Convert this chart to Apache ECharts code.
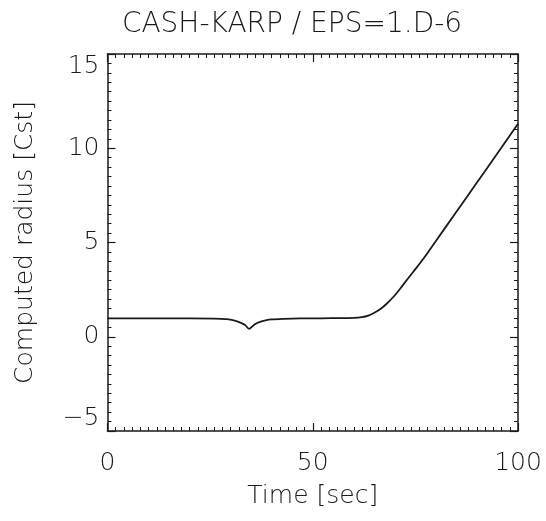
<!DOCTYPE html>
<html>
<head>
<meta charset="utf-8">
<script src="https://cdn.jsdelivr.net/npm/echarts@6/dist/echarts.min.js"></script>
<style>html,body{margin:0;padding:0;background:#fff}#c{width:546px;height:521px}</style>
</head>
<body>
<div id="c"></div>
<script>
const titleText = 'CASH-KARP / EPS=1.D-6';
const xName = 'Time [sec]';
const yName = 'Computed radius [Cst]';
const time   = [0, 10, 20, 26, 29, 31, 32.5, 33.5, 34.5, 35.3, 36, 37, 38.5, 40, 43, 47, 52, 57, 60, 62, 63.5, 65, 66.5, 68, 70, 72, 74.5, 77, 80, 85, 90, 95, 100];
const radius = [0.97, 0.97, 0.97, 0.96, 0.93, 0.85, 0.74, 0.62, 0.42, 0.55, 0.68, 0.78, 0.87, 0.92, 0.95, 0.97, 0.98, 0.99, 1.0, 1.04, 1.12, 1.27, 1.47, 1.75, 2.2, 2.75, 3.45, 4.15, 5.08, 6.63, 8.18, 9.73, 11.3];
const xTicks = [0, 50, 100];
const yTicks = [-5, 0, 5, 10, 15];

const FONT = 'DejaVu Sans';
const ink = '#1a1a1a';
const chart = echarts.init(document.getElementById('c'), null, {renderer: 'canvas'});
const axisCommon = {
  axisLine: {show: true, onZero: false, lineStyle: {color: ink, width: 1.5}},
  axisTick: {show: true, inside: true, length: 8, lineStyle: {color: ink, width: 1.2}},
  minorTick: {show: true, length: 4, lineStyle: {color: ink, width: 1}},
  splitLine: {show: false},
  minorSplitLine: {show: false}
};
chart.setOption({
  animation: false,
  backgroundColor: '#fff',
  title: {
    text: titleText, left: 287, top: 6, textAlign: 'center',
    textStyle: {fontFamily: FONT, fontSize: 28, fontWeight: 300, color: ink}
  },
  grid: {left: 107.5, right: 28, top: 54, bottom: 90},
  xAxis: [
    Object.assign({}, axisCommon, {
      type: 'value', position: 'bottom', min: xTicks[0], max: xTicks[xTicks.length - 1], interval: 50,
      minorTick: Object.assign({}, axisCommon.minorTick, {splitNumber: 25}),
      axisLabel: {margin: 20, fontFamily: FONT, fontSize: 25, fontWeight: 300, color: ink},
      name: xName, nameLocation: 'middle', nameGap: 53,
      nameTextStyle: {fontFamily: FONT, fontSize: 25, fontWeight: 300, color: ink}
    }),
    Object.assign({}, axisCommon, {
      type: 'value', position: 'top', min: xTicks[0], max: xTicks[xTicks.length - 1], interval: 50,
      minorTick: Object.assign({}, axisCommon.minorTick, {splitNumber: 25}),
      axisLabel: {show: false}
    })
  ],
  yAxis: [
    Object.assign({}, axisCommon, {
      type: 'value', position: 'left', min: yTicks[0], max: yTicks[yTicks.length - 1], interval: 5,
      minorTick: Object.assign({}, axisCommon.minorTick, {splitNumber: 10}),
      axisLabel: {margin: 8, fontFamily: FONT, fontSize: 25, fontWeight: 300, color: ink,
        verticalAlignMaxLabel: 'top', verticalAlignMinLabel: 'bottom',
        formatter: v => (v < 0 ? '\u2212' + Math.abs(v) : String(v))},
      name: yName, nameLocation: 'middle', nameGap: 70, nameRotate: 90,
      nameTextStyle: {fontFamily: FONT, fontSize: 25, fontWeight: 300, color: ink}
    }),
    Object.assign({}, axisCommon, {
      type: 'value', position: 'right', min: yTicks[0], max: yTicks[yTicks.length - 1], interval: 5,
      minorTick: Object.assign({}, axisCommon.minorTick, {splitNumber: 10}),
      axisLabel: {show: false}
    })
  ],
  series: [{
    type: 'line', xAxisIndex: 0, yAxisIndex: 0,
    data: time.map((t, i) => [t, radius[i]]),
    showSymbol: false, smooth: 0.3,
    lineStyle: {color: ink, width: 1.8}
  }]
});
</script>
</body>
</html>
